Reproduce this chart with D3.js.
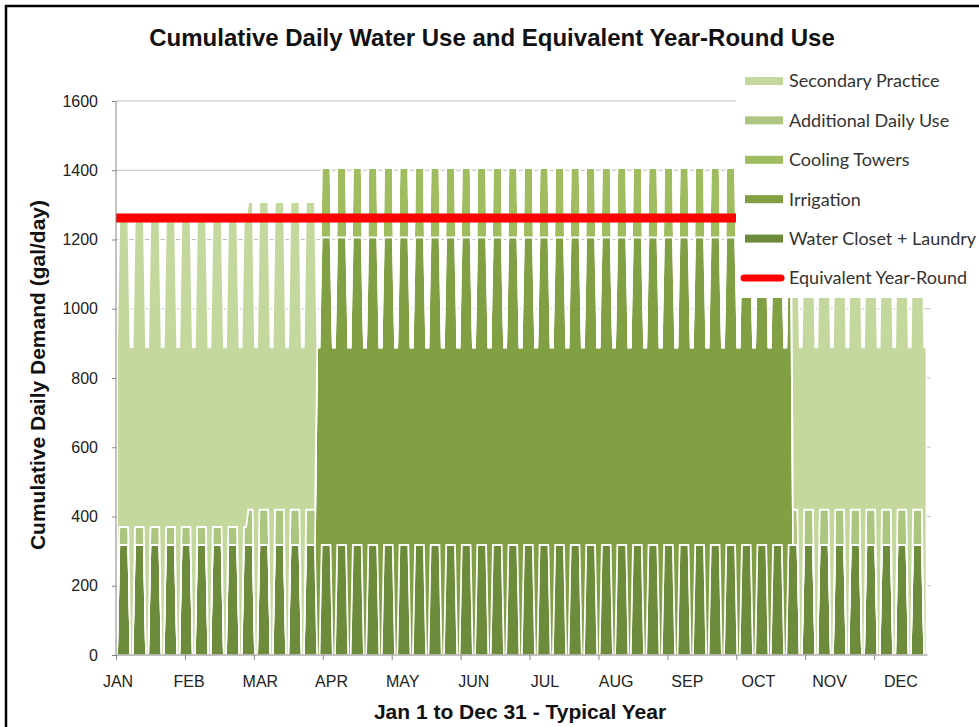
<!DOCTYPE html>
<html lang="en">
<head>
<meta charset="utf-8">
<title>Cumulative Daily Water Use</title>
<script src="https://cdn.jsdelivr.net/npm/d3@7"></script>
<style>
  body { margin: 0; background: #fff; }
  svg { display: block; }
</style>
</head>
<body>
<script>
// ---- data ----
var months = ["JAN", "FEB", "MAR", "APR", "MAY", "JUN", "JUL", "AUG", "SEP", "OCT", "NOV", "DEC"];
var yTicks = [0, 200, 400, 600, 800, 1000, 1200, 1400, 1600];

// seasons: Jan-Feb, Mar, Apr-Oct, Nov-Dec (start day of year)
var periodStartDay = [0, 59, 90, 304];
var wcWeekday = [318, 318, 318, 318];   // weekends 0
var irrigationDaily = [0, 0, 888, 0];    // every day
var coolingWeekday = [0, 0, 200, 0];     // weekends 0
var additionalWeekday = [52, 102, 0, 102]; // weekends 0
var secondaryDaily = [888, 888, 0, 888]; // every day
var weekendDayIndex = [0, 6];            // day % 7, Jan 1 is a Sunday
var equivalentYearRound = 1262;

var keys = ["wc", "irrigation", "cooling", "additional", "secondary"];
var names = {
  wc: "Water Closet + Laundry",
  irrigation: "Irrigation",
  cooling: "Cooling Towers",
  additional: "Additional Daily Use",
  secondary: "Secondary Practice"
};
var colors = {
  wc: "#6d8c3b",
  irrigation: "#81a044",
  cooling: "#9fbd5f",
  additional: "#adc67f",
  secondary: "#c4d79c"
};

var days = d3.range(365).map(function(d) {
  var p = d3.bisectRight(periodStartDay, d) - 1;
  var we = weekendDayIndex.indexOf(d % 7) >= 0;
  return {
    day: d,
    wc: we ? 0 : wcWeekday[p],
    irrigation: irrigationDaily[p],
    cooling: we ? 0 : coolingWeekday[p],
    additional: we ? 0 : additionalWeekday[p],
    secondary: secondaryDaily[p]
  };
});

// ---- layout ----
var W = 979, H = 727;
var plot = {left: 116, right: 927.5, top: 101, bottom: 655};
var tickFont = "'Liberation Sans', Arial, sans-serif";

var svg = d3.select("body").append("svg")
  .attr("width", W).attr("height", H);

// outer frame
svg.append("path")
  .attr("d", "M6," + H + "V6H" + W)
  .attr("fill", "none").attr("stroke", "#000").attr("stroke-width", 2.5);

var x = d3.scaleLinear().domain([0, 365]).range([plot.left, plot.right]);
var y = d3.scaleLinear().domain([0, 1600]).range([plot.bottom, plot.top]);

// gridlines
svg.append("g").selectAll("line").data(yTicks.slice(1)).enter().append("line")
  .attr("x1", plot.left).attr("x2", plot.right + 3)
  .attr("y1", function(d) { return y(d); }).attr("y2", function(d) { return y(d); })
  .attr("stroke", "#bfbfbf").attr("stroke-width", 1);

// stacked areas
var stack = d3.stack().keys(keys);
var layers = stack(days);
var area = d3.area()
  .x(function(d) { return x(d.data.day + 0.5); })
  .y0(function(d) { return y(d[0]); })
  .y1(function(d) { return y(d[1]); });

svg.append("g").selectAll("path").data(layers).enter().append("path")
  .attr("d", area)
  .attr("fill", function(d) { return colors[d.key]; })
  .attr("stroke", "#fff").attr("stroke-width", 1.6)
  .attr("stroke-linejoin", "miter");

// equivalent year-round line
svg.append("line")
  .attr("x1", x(0)).attr("x2", x(365))
  .attr("y1", y(equivalentYearRound)).attr("y2", y(equivalentYearRound))
  .attr("stroke", "#ff0000").attr("stroke-width", 9);

// y axis
var yAxis = d3.axisLeft(y).tickValues(yTicks).tickSize(4).tickPadding(14).tickFormat(d3.format("d"));
var gy = svg.append("g").attr("transform", "translate(" + plot.left + ",0)").call(yAxis);
gy.select(".domain").attr("stroke", "#868686").attr("d", "M0," + plot.bottom + "V" + plot.top);
gy.selectAll(".tick line").attr("stroke", "#868686");
gy.selectAll("text").attr("fill", "#222")
  .style("font-family", tickFont)
  .style("font-size", "16px");

// x axis
var xAxis = d3.axisBottom(x).tickValues(d3.range(0, 365, 31)).tickSize(5).tickFormat("");
var gx = svg.append("g").attr("transform", "translate(0," + plot.bottom + ")").call(xAxis);
gx.select(".domain").attr("stroke", "#868686").attr("d", "M" + plot.left + ",0H" + plot.right);
gx.selectAll(".tick line").attr("stroke", "#868686");

var xl = d3.scalePoint().domain(months).range([x(0.9), x(353)]);
svg.append("g").selectAll("text").data(months).enter().append("text")
  .attr("x", function(d) { return xl(d); })
  .attr("y", plot.bottom + 32)
  .attr("text-anchor", "middle")
  .attr("fill", "#222")
  .style("font-family", tickFont)
  .style("font-size", "16px")
  .text(function(d) { return d; });

// titles
svg.append("text")
  .attr("x", 492).attr("y", 46)
  .attr("text-anchor", "middle")
  .style("font-family", "'Liberation Sans', Arial, sans-serif")
  .style("font-weight", "bold").style("font-size", "24px")
  .attr("fill", "#111")
  .text("Cumulative Daily Water Use and Equivalent Year-Round Use");

svg.append("text")
  .attr("transform", "translate(45," + ((plot.top + plot.bottom) / 2 - 3) + ") rotate(-90)")
  .attr("text-anchor", "middle")
  .style("font-family", "'Liberation Sans', Arial, sans-serif")
  .style("font-weight", "bold").style("font-size", "21px")
  .attr("fill", "#111")
  .text("Cumulative Daily Demand (gal/day)");

svg.append("text")
  .attr("x", 520).attr("y", 719)
  .attr("text-anchor", "middle")
  .style("font-family", "'Liberation Sans', Arial, sans-serif")
  .style("font-weight", "bold").style("font-size", "21px")
  .attr("fill", "#111")
  .text("Jan 1 to Dec 31 - Typical Year");

// legend
var legendKeys = ["secondary", "additional", "cooling", "irrigation", "wc", "equiv"];
var legend = svg.append("g");
legend.append("rect")
  .attr("x", 736).attr("y", 61).attr("width", W - 736).attr("height", 237)
  .attr("fill", "#fff");

var ly = d3.scalePoint().domain(legendKeys).range([81, 278]);
legendKeys.forEach(function(k) {
  if (k === "equiv") {
    legend.append("line")
      .attr("x1", 744).attr("x2", 781)
      .attr("y1", ly(k)).attr("y2", ly(k))
      .attr("stroke", "#ff0000").attr("stroke-width", 7).attr("stroke-linecap", "round");
  } else {
    legend.append("rect")
      .attr("x", 745).attr("y", ly(k) - 4).attr("width", 38).attr("height", 8)
      .attr("fill", colors[k]);
  }
  legend.append("text")
    .attr("x", 789).attr("y", ly(k))
    .attr("dy", "0.36em")
    .attr("fill", "#333")
    .style("font-family", "Lato, 'Open Sans', sans-serif")
    .style("font-size", "18px")
    .text(k === "equiv" ? "Equivalent Year-Round" : names[k]);
});
</script>
</body>
</html>
